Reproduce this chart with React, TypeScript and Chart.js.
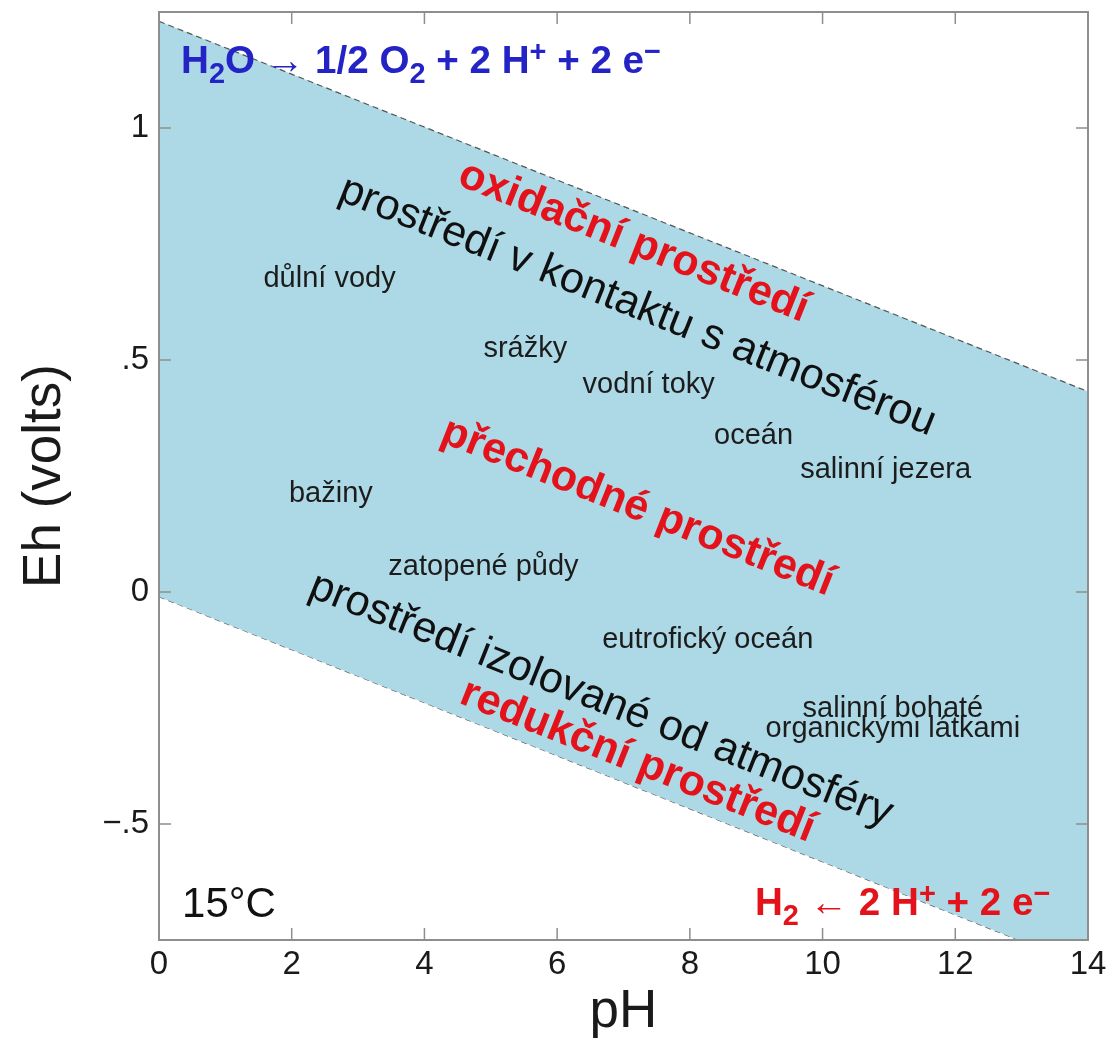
import React, { useEffect, useRef } from "react";
import { Chart, registerables } from "chart.js";

Chart.register(...registerables);

const FONT = '"Liberation Sans", Arial, Helvetica, sans-serif';

// Water stability limits at 15 °C (Eh in volts vs pH)
const pHEnds = [0, 14];
const upperEh = [1.23, 0.432]; // O2 / H2O
const lowerEh = [-0.01, -0.81]; // H2O / H2

const xTickValues = [0, 2, 4, 6, 8, 10, 12, 14];
const yTickValues = [-0.5, 0, 0.5, 1];
const yTickLabels = ["\u2212.5", "0", ".5", "1"];

// Natural environments (label centre pH, label baseline Eh)
const envNames = [
  "důlní vody",
  "srážky",
  "vodní toky",
  "oceán",
  "salinní jezera",
  "bažiny",
  "zatopené půdy",
  "eutrofický oceán",
  "salinní bohaté",
  "organickými látkami",
];
const envPH = [2.57, 5.52, 7.38, 8.96, 10.95, 2.59, 4.89, 8.27, 11.06, 11.06];
const envEh = [0.658, 0.507, 0.428, 0.32, 0.245, 0.195, 0.037, -0.121, -0.269, -0.312];

// Zone labels along the stability lines (centre pH, centre Eh)
const zoneNames = [
  "oxidační prostředí",
  "prostředí v kontaktu s atmosférou",
  "přechodné prostředí",
  "prostředí izolované od atmosféry",
  "redukční prostředí",
];
const zonePH = [7.15, 7.21, 7.21, 6.66, 7.21];
const zoneEh = [0.754, 0.615, 0.182, -0.233, -0.365];
const zoneIsRed = [true, false, true, false, true];

// Reactions
type Seg = { t: string; k?: "sub" | "sup"; thin?: boolean };
const oxReaction: Seg[] = [
  { t: "H" }, { t: "2", k: "sub" }, { t: "O " }, { t: "\u2192", thin: true },
  { t: " 1/2 O" }, { t: "2", k: "sub" }, { t: " + 2 H" }, { t: "+", k: "sup" },
  { t: " + 2 e" }, { t: "\u2212", k: "sup" },
];
const redReaction: Seg[] = [
  { t: "H" }, { t: "2", k: "sub" }, { t: " " }, { t: "\u2190", thin: true },
  { t: " 2 H" }, { t: "+", k: "sup" }, { t: " + 2 e" }, { t: "\u2212", k: "sup" },
];
const oxReactionPos = [0.333, 1.1185];
const redReactionPos = [8.98, -0.696];
const tempLabel = "15°C";
const tempPos = [0.347, -0.7];

function drawRich(ctx: CanvasRenderingContext2D, segs: Seg[], x: number, y: number, size: number, color: string) {
  let cx = x;
  ctx.fillStyle = color;
  ctx.textAlign = "left";
  ctx.textBaseline = "alphabetic";
  for (const s of segs) {
    const sz = s.k ? size * 0.75 : size;
    ctx.font = `${s.thin ? "normal" : "bold"} ${sz}px ${FONT}`;
    const dy = s.k === "sub" ? size * 0.27 : s.k === "sup" ? -size * 0.3 : 0;
    ctx.fillText(s.t, cx, y + dy);
    cx += ctx.measureText(s.t).width;
  }
}

const overlay = {
  id: "overlay",
  afterDatasetsDraw(chart: any) {
    const { ctx, chartArea: a } = chart;
    const xs = chart.scales.x;
    const ys = chart.scales.y;
    ctx.save();
    // frame
    ctx.strokeStyle = "#8e8e8e";
    ctx.lineWidth = 2;
    ctx.strokeRect(a.left, a.top, a.right - a.left, a.bottom - a.top);
    // inward ticks on all sides
    ctx.lineWidth = 1.5;
    ctx.beginPath();
    for (const v of xTickValues) {
      const px = xs.getPixelForValue(v);
      if (px <= a.left + 1 || px >= a.right - 1) continue;
      ctx.moveTo(px, a.bottom);
      ctx.lineTo(px, a.bottom - 12);
      ctx.moveTo(px, a.top);
      ctx.lineTo(px, a.top + 12);
    }
    for (const v of yTickValues) {
      const py = ys.getPixelForValue(v);
      ctx.moveTo(a.left, py);
      ctx.lineTo(a.left + 12, py);
      ctx.moveTo(a.right, py);
      ctx.lineTo(a.right - 12, py);
    }
    ctx.stroke();

    // environment labels
    ctx.fillStyle = "#1c1c1c";
    ctx.font = `29px ${FONT}`;
    ctx.textAlign = "center";
    ctx.textBaseline = "alphabetic";
    envNames.forEach((n, i) => {
      ctx.fillText(n, xs.getPixelForValue(envPH[i]), ys.getPixelForValue(envEh[i]));
    });

    // zone labels rotated parallel to the stability lines
    const ang = Math.atan2(
      ys.getPixelForValue(upperEh[1]) - ys.getPixelForValue(upperEh[0]),
      xs.getPixelForValue(pHEnds[1]) - xs.getPixelForValue(pHEnds[0])
    );
    zoneNames.forEach((n, i) => {
      ctx.save();
      ctx.translate(xs.getPixelForValue(zonePH[i]), ys.getPixelForValue(zoneEh[i]));
      ctx.rotate(ang);
      ctx.textAlign = "center";
      ctx.textBaseline = "middle";
      ctx.font = `${zoneIsRed[i] ? "bold " : ""}43px ${FONT}`;
      ctx.fillStyle = zoneIsRed[i] ? "#e3121b" : "#101010";
      ctx.fillText(n, 0, 0);
      ctx.restore();
    });

    // reactions
    drawRich(ctx, oxReaction, xs.getPixelForValue(oxReactionPos[0]), ys.getPixelForValue(oxReactionPos[1]), 38.6, "#2424c6");
    drawRich(ctx, redReaction, xs.getPixelForValue(redReactionPos[0]), ys.getPixelForValue(redReactionPos[1]), 38.6, "#e3121b");

    // temperature
    ctx.fillStyle = "#111111";
    ctx.font = `42px ${FONT}`;
    ctx.textAlign = "left";
    ctx.textBaseline = "alphabetic";
    ctx.fillText(tempLabel, xs.getPixelForValue(tempPos[0]), ys.getPixelForValue(tempPos[1]));
    ctx.restore();
  },
};

export default function App() {
  const ref = useRef<HTMLCanvasElement | null>(null);
  useEffect(() => {
    document.body.style.margin = "0";
    const canvas = ref.current;
    if (!canvas) return;
    const chart = new Chart(canvas, {
      type: "line",
      data: {
        datasets: [
          {
            label: "O2/H2O",
            data: pHEnds.map((p, i) => ({ x: p, y: upperEh[i] })),
            borderColor: "#555555",
            borderWidth: 1.2,
            borderDash: [6, 4],
            pointRadius: 0,
            fill: "+1",
            backgroundColor: "#add8e6",
          },
          {
            label: "H2O/H2",
            data: pHEnds.map((p, i) => ({ x: p, y: lowerEh[i] })),
            borderColor: "#555555",
            borderWidth: 1.2,
            borderDash: [6, 4],
            pointRadius: 0,
            fill: false,
          },
        ],
      },
      options: {
        responsive: false,
        animation: false,
        layout: { padding: { left: 0, top: 12, right: 27, bottom: 0 } },
        plugins: {
          legend: { display: false },
          tooltip: { enabled: false },
        },
        scales: {
          x: {
            type: "linear",
            min: 0,
            max: 14,
            afterBuildTicks: (s: any) => {
              s.ticks = xTickValues.map((v) => ({ value: v }));
            },
            afterFit: (s: any) => {
              s.height = 103;
              s.paddingLeft = 0;
              s.paddingRight = 0;
            },
            ticks: {
              autoSkip: false,
              maxRotation: 0,
              padding: 8,
              color: "#1a1a1a",
              font: { family: FONT, size: 33, lineHeight: 1 },
              callback: (v: any) => String(v),
            },
            grid: { display: false, drawTicks: false },
            border: { display: false },
            title: {
              display: true,
              text: "pH",
              color: "#1a1a1a",
              font: { family: FONT, size: 53, lineHeight: 1 },
              padding: { top: 0, bottom: 4 },
            },
          },
          y: {
            type: "linear",
            min: -0.75,
            max: 1.25,
            afterBuildTicks: (s: any) => {
              s.ticks = yTickValues.map((v) => ({ value: v }));
            },
            afterFit: (s: any) => {
              s.width = 159;
              s.paddingTop = 0;
              s.paddingBottom = 0;
            },
            ticks: {
              padding: 10,
              color: "#1a1a1a",
              font: { family: FONT, size: 33, lineHeight: 1 },
              callback: (_v: any, i: number) => yTickLabels[i],
            },
            grid: { display: false, drawTicks: false },
            border: { display: false },
            title: {
              display: true,
              text: "Eh (volts)",
              color: "#1a1a1a",
              font: { family: FONT, size: 53, lineHeight: 1 },
              padding: { top: 19, bottom: 0 },
            },
          },
        },
      },
      plugins: [overlay],
    });
    return () => chart.destroy();
  }, []);
  return (
    <div style={{ position: "absolute", left: 0, top: 0, width: 1115, height: 1043 }}>
      <canvas ref={ref} width={1115} height={1043} />
    </div>
  );
}
